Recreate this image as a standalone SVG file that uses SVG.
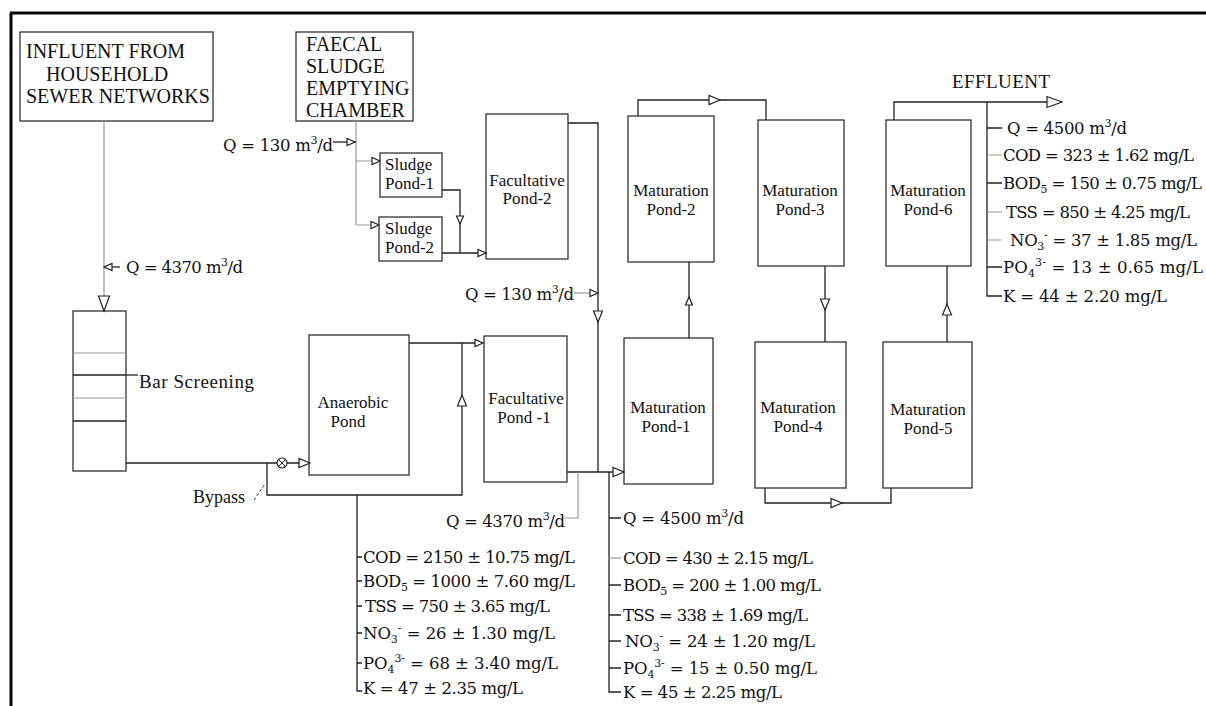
<svg xmlns="http://www.w3.org/2000/svg" xmlns:xlink="http://www.w3.org/1999/xlink" width="1206" height="706" viewBox="0 0 1206 706">
<style>
.bx{fill:#fff;stroke:#333;stroke-width:1.3}
.ln{fill:none;stroke:#222;stroke-width:1.3}
.gl{fill:none;stroke:#999;stroke-width:1.2}
.ah{fill:#fff;stroke:#222;stroke-width:1.2}
.t{font-family:"Liberation Serif","Times New Roman",serif;fill:#111}
.big{font-size:20px}
.pd{font-size:17px;text-anchor:middle}
.ls{font-family:"DejaVu Serif","Liberation Serif",serif;font-size:16.5px;fill:#111}
.sm{font-size:11px}
</style>
<defs>
<path id="a" class="ah" d="M0,0 L-8,-3.5 L-8,3.5 Z"/>
<path id="m" class="ah" d="M0,0 L-11,-4.5 L-11,4.5 Z"/>
<path id="A" class="ah" d="M0,0 L-15,-5.5 L-15,5.5 Z"/>
</defs>
<rect width="1206" height="706" fill="#fff"/>
<path d="M10,13 H1206 M11,13 V706" fill="none" stroke="#000" stroke-width="3"/>

<g id="influent">
<rect class="bx" x="20" y="32" width="193" height="89"/>
<text class="t big" x="26" y="58">INFLUENT FROM</text>
<text class="t big" x="46" y="81">HOUSEHOLD</text>
<text class="t big" x="26" y="103">SEWER NETWORKS</text>
</g>
<g id="faecal">
<rect class="bx" x="296" y="32" width="117" height="89"/>
<text class="t big" x="306" y="51">FAECAL</text>
<text class="t big" x="306" y="73">SLUDGE</text>
<text class="t big" x="306" y="95">EMPTYING</text>
<text class="t big" x="306" y="117">CHAMBER</text>
</g>
<g id="barscreen">
<rect class="bx" x="73" y="311" width="53" height="160"/>
<path d="M73,353 H126 M73,398 H126" stroke="#999" stroke-width="1.2"/>
<path d="M73,375 H126 M73,421 H126" stroke="#222" stroke-width="1.4"/>
<text class="t" font-size="19" x="139" y="388" textLength="115">Bar Screening</text>
</g>
<g id="sludge1">
<rect class="bx" x="380" y="153" width="62" height="44"/>
<text class="t" font-size="17" x="385" y="170">Sludge</text>
<text class="t" font-size="17" x="385" y="189">Pond-1</text>
</g>
<g id="sludge2">
<rect class="bx" x="379" y="217" width="63" height="44"/>
<text class="t" font-size="17" x="385" y="234">Sludge</text>
<text class="t" font-size="17" x="385" y="253">Pond-2</text>
</g>
<g id="fac2">
<rect class="bx" x="486" y="114" width="82" height="145"/>
<text class="t pd" x="527" y="186">Facultative</text>
<text class="t pd" x="527" y="204">Pond-2</text>
</g>
<g id="anaerobic">
<rect class="bx" x="309" y="335" width="100" height="140"/>
<text class="t pd" x="353" y="408">Anaerobic</text>
<text class="t pd" x="348" y="427">Pond</text>
</g>
<g id="fac1">
<rect class="bx" x="484" y="336" width="83" height="146"/>
<text class="t pd" x="526" y="404">Facultative</text>
<text class="t pd" x="524" y="423">Pond -1</text>
</g>
<g id="mp1">
<rect class="bx" x="624" y="338" width="89" height="146"/>
<text class="t pd" x="668" y="413">Maturation</text>
<text class="t pd" x="666" y="432">Pond-1</text>
</g>
<g id="mp2">
<rect class="bx" x="628" y="116" width="86" height="146"/>
<text class="t pd" x="671" y="196">Maturation</text>
<text class="t pd" x="671" y="215">Pond-2</text>
</g>
<g id="mp3">
<rect class="bx" x="758" y="120" width="86" height="146"/>
<text class="t pd" x="800" y="196">Maturation</text>
<text class="t pd" x="800" y="215">Pond-3</text>
</g>
<g id="mp4">
<rect class="bx" x="755" y="342" width="91" height="146"/>
<text class="t pd" x="798" y="413">Maturation</text>
<text class="t pd" x="798" y="432">Pond-4</text>
</g>
<g id="mp5">
<rect class="bx" x="883" y="342" width="89" height="146"/>
<text class="t pd" x="928" y="415">Maturation</text>
<text class="t pd" x="928" y="434">Pond-5</text>
</g>
<g id="mp6">
<rect class="bx" x="886" y="120" width="85" height="146"/>
<text class="t pd" x="928" y="196">Maturation</text>
<text class="t pd" x="928" y="215">Pond-6</text>
</g>

<g id="connectors">
<path class="gl" d="M104,121 V300"/>
<path class="ln" d="M104,267 H120"/>
<path class="ln" d="M126,463 H277 M287,463 H300"/>
<circle cx="282" cy="463" r="5" fill="#fff" stroke="#222" stroke-width="1.2"/>
<path d="M278.5,459.5 L285.5,466.5 M285.5,459.5 L278.5,466.5" stroke="#222" stroke-width="1"/>
<path class="ln" d="M267,463 V495 H462 V343"/>
<path class="ln" d="M409,343 H483"/>
<path class="ln" d="M126,375 H138"/>
<path d="M254,500 L265,484" stroke="#333" stroke-width="1" stroke-dasharray="3,2" fill="none"/>
<path class="gl" d="M356,121 V225 M356,161 H380 M356,225 H379"/>
<path class="ln" d="M333,142 H356"/>
<path class="ln" d="M442,190 H460 V253 M442,253 H486"/>
<path class="ln" d="M568,123 H598 V472"/>
<path class="gl" d="M574,293 H598"/>
<path class="ln" d="M567,472 H624"/>
<path class="gl" d="M565,518 H578 V472"/>
<path class="ln" d="M357,495 V691 H362 M357,557 H362 M357,581 H362 M357,606 H362 M357,633 H362 M357,663 H362"/>
<path class="ln" d="M609,472 V692 H621 M609,518 H621 M609,585 H621 M609,615 H621 M609,641 H621 M609,668 H621"/>
<path class="gl" d="M609,558 H621"/>
<path class="ln" d="M689,338 V262"/>
<path class="ln" d="M638,116 V100 H766 V120"/>
<path class="ln" d="M825,266 V342"/>
<path class="ln" d="M765,488 V503 H891 V488"/>
<path class="ln" d="M947,342 V266"/>
<path class="ln" d="M894,120 V102 H1062"/>
<path class="ln" d="M987,102 V296 H1002 M987,128 H1002 M987,183 H1002 M987,267 H1002"/>
<path class="gl" d="M987,155 H1002 M987,212 H1002 M987,240 H1002"/>
<use xlink:href="#A" transform="translate(104,311) rotate(90)"/>
<use xlink:href="#a" transform="translate(104,267) rotate(180)"/>
<use xlink:href="#a" transform="translate(355,142)"/>
<use xlink:href="#a" transform="translate(380,161)"/>
<use xlink:href="#a" transform="translate(379,225)"/>
<use xlink:href="#a" transform="translate(460,224) rotate(90)"/>
<use xlink:href="#a" transform="translate(486,253)"/>
<use xlink:href="#a" transform="translate(598,293)"/>
<use xlink:href="#m" transform="translate(598,322) rotate(90)"/>
<use xlink:href="#m" transform="translate(310,463)"/>
<use xlink:href="#m" transform="translate(462,395) rotate(-90)"/>
<use xlink:href="#a" transform="translate(483,343)"/>
<use xlink:href="#m" transform="translate(624,472)"/>
<use xlink:href="#a" transform="translate(689,297) rotate(-90)"/>
<use xlink:href="#m" transform="translate(720,100)"/>
<use xlink:href="#m" transform="translate(825,310) rotate(90)"/>
<use xlink:href="#m" transform="translate(842,503)"/>
<use xlink:href="#m" transform="translate(947,304) rotate(-90)"/>
<use xlink:href="#A" transform="translate(1062,102)"/>
</g>

<g id="labels">
<text class="ls" x="126" y="273" textLength="117">Q = 4370 m<tspan class="sm" dy="-7">3</tspan><tspan dy="7">/d</tspan></text>
<text class="ls" x="223" y="151" textLength="110">Q = 130 m<tspan class="sm" dy="-7">3</tspan><tspan dy="7">/d</tspan></text>
<text class="ls" x="465" y="300" textLength="109">Q = 130 m<tspan class="sm" dy="-7">3</tspan><tspan dy="7">/d</tspan></text>
<text class="ls" x="446" y="527" textLength="119">Q = 4370 m<tspan class="sm" dy="-7">3</tspan><tspan dy="7">/d</tspan></text>
<text class="t" font-size="19" x="952" y="88" textLength="98">EFFLUENT</text>
<text class="t" font-size="18" x="193" y="503">Bypass</text>

<text class="ls" x="363" y="563" textLength="212">COD = 2150 ± 10.75 mg/L</text>
<text class="ls" x="363" y="587" textLength="212">BOD<tspan class="sm" dy="4">5</tspan><tspan dy="-4"> = 1000 ± 7.60 mg/L</tspan></text>
<text class="ls" x="365" y="612" textLength="185">TSS = 750 ± 3.65 mg/L</text>
<text class="ls" x="363" y="639" textLength="192">NO<tspan class="sm" dy="4">3</tspan><tspan class="sm" dy="-11">-</tspan><tspan dy="7">  = 26 ± 1.30 mg/L</tspan></text>
<text class="ls" x="363" y="669" textLength="195">PO<tspan class="sm" dy="4">4</tspan><tspan class="sm" dy="-11">3-</tspan><tspan dy="7">  = 68 ± 3.40 mg/L</tspan></text>
<text class="ls" x="363" y="694" textLength="160">K = 47 ± 2.35 mg/L</text>

<text class="ls" x="623" y="524" textLength="121">Q = 4500 m<tspan class="sm" dy="-7">3</tspan><tspan dy="7">/d</tspan></text>
<text class="ls" x="623" y="564" textLength="190">COD = 430 ± 2.15 mg/L</text>
<text class="ls" x="623" y="591" textLength="198">BOD<tspan class="sm" dy="4">5</tspan><tspan dy="-4"> = 200 ± 1.00 mg/L</tspan></text>
<text class="ls" x="623" y="621" textLength="185">TSS = 338 ± 1.69 mg/L</text>
<text class="ls" x="625" y="647" textLength="190">NO<tspan class="sm" dy="4">3</tspan><tspan class="sm" dy="-11">-</tspan><tspan dy="7">  = 24 ± 1.20 mg/L</tspan></text>
<text class="ls" x="623" y="674" textLength="194">PO<tspan class="sm" dy="4">4</tspan><tspan class="sm" dy="-11">3-</tspan><tspan dy="7">  = 15 ± 0.50 mg/L</tspan></text>
<text class="ls" x="623" y="698" textLength="159">K = 45 ± 2.25 mg/L</text>

<text class="ls" x="1007" y="134" textLength="120">Q = 4500 m<tspan class="sm" dy="-7">3</tspan><tspan dy="7">/d</tspan></text>
<text class="ls" x="1003" y="161" textLength="191">COD = 323 ± 1.62 mg/L</text>
<text class="ls" x="1003" y="189" textLength="199">BOD<tspan class="sm" dy="4">5</tspan><tspan dy="-4"> = 150 ± 0.75 mg/L</tspan></text>
<text class="ls" x="1006" y="218" textLength="184">TSS = 850 ± 4.25 mg/L</text>
<text class="ls" x="1010" y="246" textLength="187">NO<tspan class="sm" dy="4">3</tspan><tspan class="sm" dy="-11">-</tspan><tspan dy="7">  = 37 ± 1.85 mg/L</tspan></text>
<text class="ls" x="1003" y="273" textLength="200">PO<tspan class="sm" dy="4">4</tspan><tspan class="sm" dy="-11">3-</tspan><tspan dy="7">  = 13 ± 0.65 mg/L</tspan></text>
<text class="ls" x="1003" y="302" textLength="164">K = 44 ± 2.20 mg/L</text>
</g>
</svg>
